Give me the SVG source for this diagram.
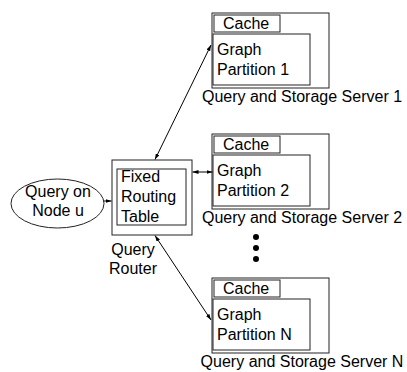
<svg xmlns="http://www.w3.org/2000/svg" width="407" height="372" viewBox="0 0 407 372">
<style>
text{font-family:"Liberation Sans",Arial,sans-serif;font-size:16px;fill:#000}
.box{fill:#fff;stroke:#222;stroke-width:1}
.ln{stroke:#000;stroke-width:1;fill:none}
.mid{text-anchor:middle}
</style>
<defs>
<marker id="ah" viewBox="0 0 6 4" refX="6" refY="2" markerWidth="6" markerHeight="4" markerUnits="userSpaceOnUse" orient="auto-start-reverse">
<path d="M0,0 L6,2 L0,4 Z" fill="#000"/>
</marker>
</defs>
<rect width="407" height="372" fill="#fff"/>

<g id="query">
<ellipse cx="57.5" cy="203.5" rx="46.5" ry="24.5" class="box"/>
<text x="58" y="197" class="mid">Query on</text>
<text x="58" y="216" class="mid">Node u</text>
</g>

<g id="router">
<rect x="112" y="160" width="80" height="75" class="box"/>
<rect x="117" y="169" width="69" height="56" class="box"/>
<text x="121" y="182">Fixed</text>
<text x="121" y="202">Routing</text>
<text x="121" y="222">Table</text>
<text x="133" y="255" class="mid">Query</text>
<text x="133" y="274" class="mid">Router</text>
</g>

<g id="server1">
<rect x="212" y="13" width="117" height="75" class="box"/>
<rect x="214" y="15" width="66" height="17" class="box"/>
<text x="223" y="29">Cache</text>
<rect x="213" y="34" width="97" height="51" class="box"/>
<text x="217" y="55">Graph</text>
<text x="217" y="75">Partition 1</text>
<text x="302" y="102" class="mid">Query and Storage Server 1</text>
</g>

<g id="server2">
<rect x="212" y="134" width="117" height="75" class="box"/>
<rect x="214" y="136" width="66" height="17" class="box"/>
<text x="223" y="150">Cache</text>
<rect x="213" y="155" width="97" height="51" class="box"/>
<text x="217" y="176">Graph</text>
<text x="217" y="196">Partition 2</text>
<text x="302" y="223" class="mid">Query and Storage Server 2</text>
</g>

<g id="ellipsis">
<circle cx="256" cy="237" r="3"/>
<circle cx="256" cy="248" r="3"/>
<circle cx="256" cy="259" r="3"/>
</g>

<g id="serverN">
<rect x="212" y="278" width="117" height="75" class="box"/>
<rect x="214" y="280" width="66" height="17" class="box"/>
<text x="223" y="294">Cache</text>
<rect x="213" y="299" width="97" height="51" class="box"/>
<text x="217" y="320">Graph</text>
<text x="217" y="340">Partition N</text>
<text x="302" y="367" class="mid">Query and Storage Server N</text>
</g>

<g id="connectors">
<line x1="104" y1="201" x2="111.5" y2="201" class="ln" marker-end="url(#ah)"/>
<line x1="192.5" y1="172" x2="212.5" y2="172" class="ln" marker-start="url(#ah)" marker-end="url(#ah)"/>
<line x1="155" y1="159.5" x2="211" y2="45" class="ln" marker-start="url(#ah)" marker-end="url(#ah)"/>
<line x1="155" y1="235.5" x2="211" y2="320" class="ln" marker-start="url(#ah)" marker-end="url(#ah)"/>
</g>
</svg>
